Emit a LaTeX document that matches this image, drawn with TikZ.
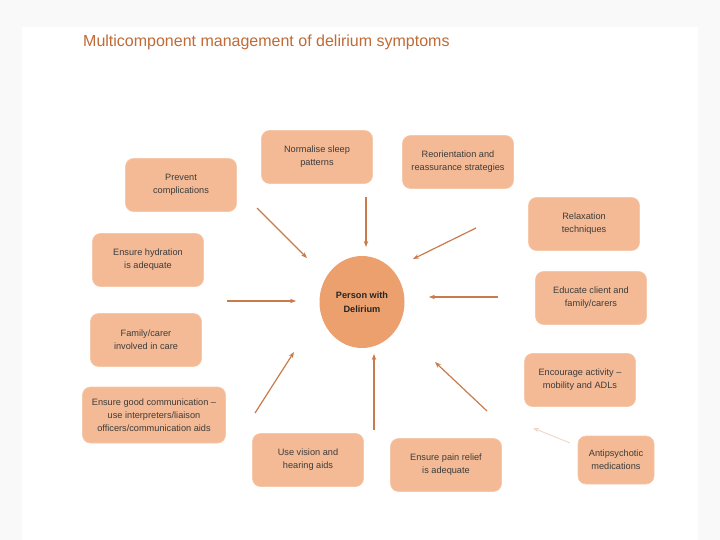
\documentclass[tikz,border=0pt]{standalone}
\usepackage{fontspec}
\setmainfont{Liberation Sans}
\usetikzlibrary{arrows.meta,shapes.geometric}
\definecolor{boxfill}{HTML}{F4BA95}
\definecolor{circfill}{HTML}{EBA06D}
\definecolor{arr}{HTML}{C97B4B}
\definecolor{ttl}{HTML}{C06A35}
\definecolor{txt}{HTML}{3C3C3C}
\tikzset{
  box/.style={rectangle, rounded corners=8pt, fill=boxfill, draw=boxfill!80!white, line width=0.6pt,
    minimum width=#1, minimum height=53pt, align=center, text=txt,
    font=\fontsize{9.2}{13}\selectfont, inner sep=2pt},
  box/.default=111pt,
  conn/.style={draw=arr, line width=1.2pt, -{Stealth[length=6pt,width=4.5pt]}},
}
\begin{document}
\begin{tikzpicture}[x=1pt,y=-1pt]
\useasboundingbox (0,0) rectangle (720,540);
\fill[gray!5] (0,0) rectangle (720,540);
\fill[white] (22,27) rectangle (698,540);

\node[anchor=west, text=ttl, font=\fontsize{16}{19}\selectfont, inner sep=0pt] (title) at (83,42) {Multicomponent management of delirium symptoms};

\node[ellipse, fill=circfill, minimum width=85pt, minimum height=92pt, align=center,
  font=\bfseries\fontsize{9.2}{14}\selectfont, text=black!85] (p) at (362,302) {Person with\\Delirium};

\node[box] (prev) at (181,185) {Prevent\\complications};
\node[box] (sleep) at (317,157) {Normalise sleep\\patterns};
\node[box] (reor) at (458,162) {Reorientation and\\reassurance strategies};
\node[box] (relax) at (584,224) {Relaxation\\techniques};
\node[box] (educ) at (591,298) {Educate client and\\family/carers};
\node[box] (enc) at (580,380) {Encourage activity –\\mobility and ADLs};
\node[box=76pt, minimum height=48pt] (anti) at (616,460) {Antipsychotic\\medications};
\node[box] (pain) at (446,465) {Ensure pain relief\\is adequate};
\node[box] (vis) at (308,460) {Use vision and\\hearing aids};
\node[box=143pt, minimum height=56pt] (comm) at (154,415) {Ensure good communication –\\use interpreters/liaison\\officers/communication aids};
\node[box] (fam) at (146,340) {Family/carer\\involved in care};
\node[box] (hyd) at (148,260) {Ensure hydration\\is adequate};

% arrow end points
\coordinate (a1s) at (257,208); \coordinate (a1e) at (307,258);
\coordinate (a2s) at (366,197); \coordinate (a2e) at (366,247);
\coordinate (a3s) at (476,228); \coordinate (a3e) at (413,259);
\coordinate (a4s) at (498,297); \coordinate (a4e) at (429,297);
\coordinate (a5s) at (487,411); \coordinate (a5e) at (435,362);
\coordinate (a6s) at (374,430); \coordinate (a6e) at (374,354);
\coordinate (a7s) at (255,413); \coordinate (a7e) at (294,352);
\coordinate (a8s) at (227,301); \coordinate (a8e) at (296,301);
\coordinate (a9s) at (570,443); \coordinate (a9e) at (533,428);

\draw[conn] (a1s) -- (a1e);
\draw[conn] (a2s) -- (a2e);
\draw[conn] (a3s) -- (a3e);
\draw[conn] (a4s) -- (a4e);
\draw[conn] (a5s) -- (a5e);
\draw[conn] (a6s) -- (a6e);
\draw[conn] (a7s) -- (a7e);
\draw[conn] (a8s) -- (a8e);
\draw[conn, draw=arr!30!white, line width=0.9pt] (a9s) -- (a9e);
\end{tikzpicture}
\end{document}
